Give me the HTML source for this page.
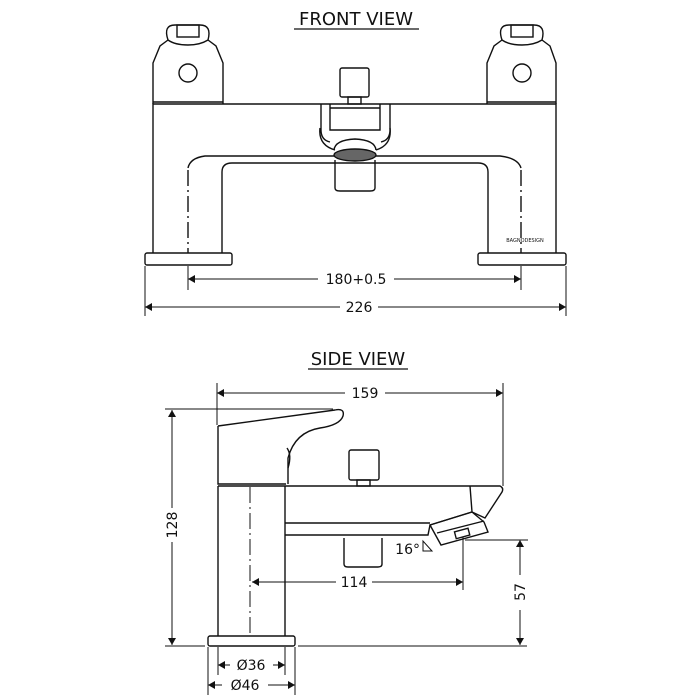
<!DOCTYPE html>
<html><head><style>body{margin:0;background:#fff}svg{display:block}text{font-family:"DejaVu Sans","Liberation Sans",sans-serif;fill:#111}</style></head><body>
<svg width="700" height="700" viewBox="0 0 700 700" xmlns="http://www.w3.org/2000/svg">
<defs><marker id="a" markerWidth="8" markerHeight="8" refX="7" refY="4" orient="auto-start-reverse" markerUnits="userSpaceOnUse"><path d="M0,0 L7,4 L0,8 Z" fill="#111"/></marker></defs>
<g fill="none" stroke="#111" stroke-width="1.4">
<path d="M153,104 V63 L160,46 L168,40 M223,104 V63 L216,46 L208,40"/>
<path d="M168,40 Q163,25 175,25 H200 Q212,25 208,40 Q200,45 188,45 Q175,45 168,40 Z"/>
<rect x="177" y="25" width="22" height="12"/>
<circle cx="188" cy="73" r="9"/>
<line x1="153" y1="102" x2="223" y2="102"/>
<path d="M487,104 V63 L494,46 L502,40 M556,104 V63 L550,46 L542,40"/>
<path d="M502,40 Q497,25 509,25 H534 Q546,25 542,40 Q534,45 522,45 Q509,45 502,40 Z"/>
<rect x="511" y="25" width="22" height="12"/>
<circle cx="522" cy="73" r="9"/>
<line x1="487" y1="102" x2="556" y2="102"/>
<path d="M153,253 V104 H556 V253"/>
<path d="M188,168 Q190,158 205,156 H500 Q518,158 521,168"/>
<path d="M222,253 V172 Q222,163 232,163 H478 Q488,163 488,172 V253"/>
<path d="M188,170 V253 M521,170 V253" stroke-dasharray="16,4,2,4"/>
<rect x="145" y="253" width="87" height="12" rx="2"/>
<rect x="478" y="253" width="88" height="12" rx="2"/>
<rect x="340" y="68" width="29" height="29" rx="2"/>
<rect x="348" y="97" width="13" height="7"/>
<path d="M321,104 V130 Q321,140 330,142 M390,104 V130 Q390,140 381,142"/>
<path d="M330,104 V130 H380 V104 M330,108 H380"/>
<path d="M320,128 Q318,145 335,150 M390,128 Q392,145 376,150"/>
<path d="M334,150 Q335,140 355,139 Q375,140 376,150"/>
<ellipse cx="355" cy="155" rx="21" ry="6" fill="#666"/>
<path d="M335,160 V188 Q335,191 340,191 H370 Q375,191 375,188 V160"/>
<line x1="145" y1="266" x2="145" y2="316" stroke-width="1"/>
<line x1="566" y1="266" x2="566" y2="316" stroke-width="1"/>
<line x1="188" y1="266" x2="188" y2="290" stroke-width="1"/>
<line x1="521" y1="266" x2="521" y2="290" stroke-width="1"/>
<line x1="188" y1="279" x2="318" y2="279" stroke-width="1" marker-start="url(#a)"/>
<line x1="394" y1="279" x2="521" y2="279" stroke-width="1" marker-end="url(#a)"/>
<line x1="145" y1="307" x2="340" y2="307" stroke-width="1" marker-start="url(#a)"/>
<line x1="378" y1="307" x2="566" y2="307" stroke-width="1" marker-end="url(#a)"/>
<line x1="217" y1="383" x2="217" y2="425" stroke-width="1"/>
<line x1="503" y1="383" x2="503" y2="486" stroke-width="1"/>
<line x1="217" y1="393" x2="345" y2="393" stroke-width="1" marker-start="url(#a)"/>
<line x1="385" y1="393" x2="503" y2="393" stroke-width="1" marker-end="url(#a)"/>
<line x1="165" y1="409" x2="333" y2="409" stroke-width="1"/>
<line x1="165" y1="646" x2="205" y2="646" stroke-width="1"/>
<line x1="298" y1="646" x2="527" y2="646" stroke-width="1"/>
<line x1="172" y1="410" x2="172" y2="508" stroke-width="1" marker-start="url(#a)"/>
<line x1="172" y1="542" x2="172" y2="645" stroke-width="1" marker-end="url(#a)"/>
<path d="M218,426 L335,410 Q345,408 343,416 Q340,425 320,428 Q295,432 288,458 V484 M218,426 V484 H286"/>
<path d="M287,448 Q292,455 288,468"/>
<path d="M218,486 V636 M285,486 V636"/>
<line x1="218" y1="486" x2="285" y2="486"/>
<line x1="250" y1="487" x2="250" y2="636" stroke-dasharray="16,4,2,4" stroke-width="1"/>
<rect x="208" y="636" width="87" height="10" rx="2"/>
<path d="M285,486 H500 Q504,488 502,492 L485,518 L472,512 L430,525 L428,535 H285 M285,523 H430 M470,486 L472,512"/>
<path d="M430,525 L472,512 L484,522 L488,532 L441,545 Z M437,533 L484,521"/>
<rect x="455" y="530" width="14" height="7" transform="rotate(-15 462 533)"/>
<rect x="349" y="450" width="30" height="30" rx="2"/>
<rect x="357" y="480" width="13" height="6"/>
<path d="M344,538 V564 Q344,567 348,567 H378 Q382,567 382,564 V538"/>
<path d="M423,551 L432,551 L423,541 Z" stroke-width="1"/>
<line x1="463" y1="537" x2="463" y2="590" stroke-width="1"/>
<line x1="252" y1="582" x2="336" y2="582" stroke-width="1" marker-start="url(#a)"/>
<line x1="372" y1="582" x2="463" y2="582" stroke-width="1" marker-end="url(#a)"/>
<line x1="465" y1="540" x2="528" y2="540" stroke-width="1"/>
<line x1="520" y1="540" x2="520" y2="575" stroke-width="1" marker-start="url(#a)"/>
<line x1="520" y1="610" x2="520" y2="645" stroke-width="1" marker-end="url(#a)"/>
<line x1="208" y1="647" x2="208" y2="695" stroke-width="1"/>
<line x1="295" y1="647" x2="295" y2="695" stroke-width="1"/>
<line x1="218" y1="647" x2="218" y2="675" stroke-width="1"/>
<line x1="285" y1="647" x2="285" y2="675" stroke-width="1"/>
<line x1="218" y1="665" x2="230" y2="665" stroke-width="1" marker-start="url(#a)"/>
<line x1="273" y1="665" x2="285" y2="665" stroke-width="1" marker-end="url(#a)"/>
<line x1="208" y1="685" x2="222" y2="685" stroke-width="1" marker-start="url(#a)"/>
<line x1="268" y1="685" x2="295" y2="685" stroke-width="1" marker-end="url(#a)"/>
</g>
<text x="356" y="25" font-size="18" text-anchor="middle">FRONT VIEW</text>
<line x1="294" y1="29" x2="419" y2="29" stroke="#111" stroke-width="1.2"/>
<text x="358" y="365" font-size="18" text-anchor="middle">SIDE VIEW</text>
<line x1="308" y1="369" x2="408" y2="369" stroke="#111" stroke-width="1.2"/>
<text x="356" y="284" font-size="14" text-anchor="middle">180+0.5</text>
<text x="359" y="312" font-size="14" text-anchor="middle">226</text>
<text x="365" y="398" font-size="14" text-anchor="middle">159</text>
<text x="354" y="587" font-size="14" text-anchor="middle">114</text>
<text x="420" y="554" font-size="14" text-anchor="end">16°</text>
<text x="251" y="670" font-size="14" text-anchor="middle">Ø36</text>
<text x="245" y="690" font-size="14" text-anchor="middle">Ø46</text>
<text x="525" y="242" font-size="5" text-anchor="middle" fill="#888">BAGNODESIGN</text>
<text transform="translate(177,525) rotate(-90)" font-size="14" text-anchor="middle">128</text>
<text transform="translate(525,592) rotate(-90)" font-size="14" text-anchor="middle">57</text>
</svg>
</body></html>
